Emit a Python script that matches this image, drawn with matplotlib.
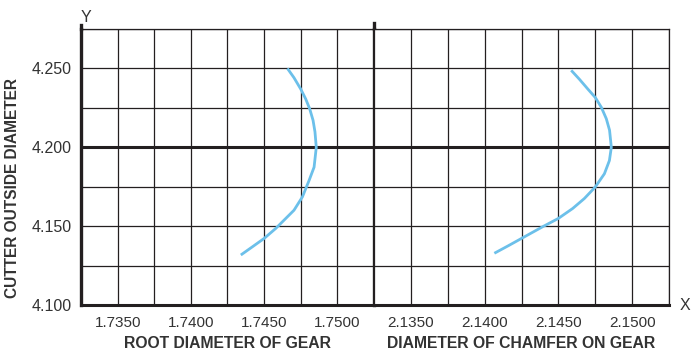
import matplotlib
matplotlib.use("Agg")
import matplotlib.pyplot as plt
from matplotlib.ticker import MultipleLocator, FixedLocator

OUTPUT_PATH = "out.png"

# Root diameter of gear vs cutter outside diameter
root_x = [1.74659, 1.74704, 1.7475, 1.74784, 1.74811, 1.74834, 1.74847, 1.74856,
          1.74841, 1.74807, 1.74761, 1.74704, 1.74636, 1.7458, 1.7450, 1.7442, 1.74341]
root_y = [4.2500, 4.2441, 4.2369, 4.2306, 4.2244, 4.2171, 4.2098, 4.2000,
          4.1874, 4.1790, 4.1685, 4.1601, 4.1538, 4.1486, 4.1422, 4.1369, 4.1317]

# Chamfer diameter on gear vs cutter outside diameter
chamfer_x = [2.14587, 2.14643, 2.1470, 2.1475, 2.14791, 2.14825, 2.14847, 2.14859,
             2.14846, 2.14812, 2.1475, 2.14676, 2.14597, 2.1450, 2.14393, 2.1425,
             2.14165, 2.14066]
chamfer_y = [4.2488, 4.2431, 4.2369, 4.2316, 4.2254, 4.2181, 4.2108, 4.2000,
             4.1916, 4.1832, 4.1748, 4.1675, 4.1612, 4.1549, 4.1496, 4.1422,
             4.1378, 4.1328]

root_ticks = [1.7350, 1.7400, 1.7450, 1.7500]
chamfer_ticks = [2.1350, 2.1400, 2.1450, 2.1500]
y_ticks = [4.100, 4.150, 4.200, 4.250]

BLUE = "#6cc0ea"
INK = "#231f20"
TXT = "#333333"


def style_half(ax, xlim, ticks):
    ax.set_xlim(*xlim)
    ax.set_ylim(4.100, 4.275)
    ax.xaxis.set_major_locator(FixedLocator(ticks))
    ax.xaxis.set_minor_locator(MultipleLocator(0.0025))
    ax.yaxis.set_major_locator(FixedLocator(y_ticks))
    ax.yaxis.set_minor_locator(MultipleLocator(0.025))
    ax.set_xticklabels([f"{t:.4f}" for t in ticks])
    ax.set_yticklabels([f"{t:.3f}" for t in y_ticks])
    ax.grid(True, which="both", color=INK, lw=0.9)
    ax.tick_params(which="both", length=0, labelsize=11, labelcolor=TXT, pad=8)
    ax.axhline(4.200, color=INK, lw=2.2, zorder=2)
    for s in ax.spines.values():
        s.set_color(INK)
        s.set_linewidth(0.9)
    ax.spines["bottom"].set_linewidth(2.2)
    ax.set_axisbelow(True)


def main():
    fig = plt.figure(figsize=(6.91, 3.54), dpi=100)
    W, H = 691, 354
    ax1 = fig.add_axes([81 / W, 1 - 305 / H, 293 / W, 276 / H])
    ax2 = fig.add_axes([374 / W, 1 - 305 / H, 295 / W, 276 / H])

    style_half(ax1, (1.7325, 1.7525), root_ticks)
    style_half(ax2, (2.1325, 2.1525), chamfer_ticks)

    ax1.spines["left"].set_linewidth(2.4)
    ax1.spines["right"].set_linewidth(2.4)
    ax2.spines["left"].set_visible(False)
    ax2.tick_params(axis="y", labelleft=False)
    ax1.tick_params(axis="y", labelsize=11.5, pad=7)

    ax1.plot(root_x, root_y, color=BLUE, lw=2.0, solid_capstyle="butt",
             solid_joinstyle="round", zorder=3)
    ax2.plot(chamfer_x, chamfer_y, color=BLUE, lw=2.0, solid_capstyle="butt",
             solid_joinstyle="round", zorder=3)

    # axis lines poking out above the grid
    ax1.plot([0, 0], [1, 1.015], transform=ax1.transAxes, color=INK, lw=2.4, clip_on=False)
    ax1.plot([1, 1], [1, 1.022], transform=ax1.transAxes, color=INK, lw=2.4, clip_on=False)

    ax1.set_xlabel("ROOT DIAMETER OF GEAR", fontsize=11.3, fontweight="bold",
                   color=TXT, labelpad=4)
    ax2.set_xlabel("DIAMETER OF CHAMFER ON GEAR", fontsize=11.3, fontweight="bold",
                   color=TXT, labelpad=4)

    fig.text(13 / W, 1 - 188 / H, "CUTTER OUTSIDE DIAMETER", rotation=90,
             fontsize=11.2, fontweight="bold", color=TXT, ha="center", va="center")
    fig.text(86 / W, 1 - 17 / H, "Y", fontsize=11.5, color=TXT, ha="center", va="center")
    fig.text(685 / W, 1 - 305 / H, "X", fontsize=11.5, color=TXT, ha="center", va="center")

    fig.savefig(OUTPUT_PATH, dpi=100)


if __name__ == "__main__":
    plt.rcParams["font.family"] = ["Liberation Sans", "DejaVu Sans"]
    main()
